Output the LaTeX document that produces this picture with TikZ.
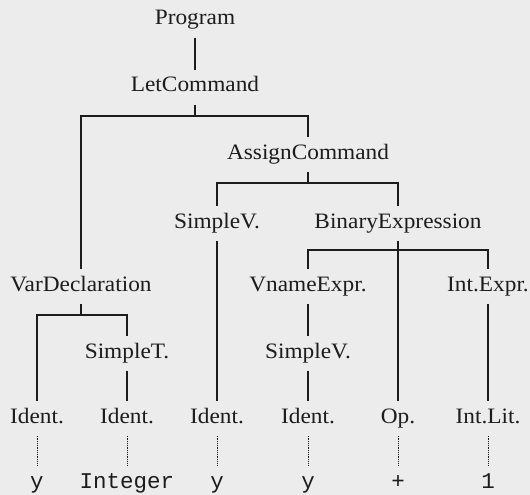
\documentclass[tikz,border=0pt]{standalone}
\usepackage{fontspec}
\setmainfont[FakeStretch=1.06]{Liberation Serif}
\setmonofont{Liberation Mono}
\definecolor{bg}{RGB}{236,236,236}
\definecolor{ink}{RGB}{28,28,28}
\tikzset{
  lbl/.style={anchor=base, inner sep=0pt, text height=22pt, text depth=12.5pt,
              text=ink, font=\fontsize{22}{26}\selectfont},
  tok/.style={lbl, font=\ttfamily\fontsize{22.5}{26}\selectfont},
  edge/.style={draw=ink, line width=1.7pt, line join=miter},
  lex/.style={draw=ink, line width=0.9pt, dash pattern=on 0.9pt off 0.9pt}
}
\begin{document}
\begin{tikzpicture}[x=1pt,y=-1pt]
\fill[bg] (0,0) rectangle (530,495);
\useasboundingbox (0,0) rectangle (530,495);
% nodes
\node[lbl] (prog) at (195,25) {Program};
\node[lbl] (let)  at (195,92) {LetCommand};
\node[lbl] (asg)  at (308,159) {AssignCommand};
\node[lbl] (sv1)  at (217,228) {SimpleV.};
\node[lbl] (bin)  at (398,228) {BinaryExpression};
\node[lbl] (var)  at (81,291) {VarDeclaration};
\node[lbl] (vne)  at (308,291) {VnameExpr.};
\node[lbl] (inte) at (488,291) {Int.Expr.};
\node[lbl] (st)   at (127,358) {SimpleT.};
\node[lbl] (sv2)  at (308,358) {SimpleV.};
\node[lbl] (id1)  at (37,423) {Ident.};
\node[lbl] (id2)  at (127,423) {Ident.};
\node[lbl] (id3)  at (217,423) {Ident.};
\node[lbl] (id4)  at (308,423) {Ident.};
\node[lbl] (op)   at (398,423) {Op.};
\node[lbl] (lit)  at (488,423) {Int.Lit.};
\node[tok] (t1) at (37,488) {y};
\node[tok] (t2) at (127,488) {Integer};
\node[tok] (t3) at (217,488) {y};
\node[tok] (t4) at (308,488) {y};
\node[tok] (t5) at (398,488) {+};
\node[tok] (t6) at (488,488) {1};
% bar levels
\coordinate (b1) at (0,116);
\coordinate (b2) at (0,183);
\coordinate (b3) at (0,250);
\coordinate (b4) at (0,315);
% connectors
\draw[edge] (prog.south) -- (let.north);
\draw[edge] (let.south) -- (let.south |- b1);
\draw[edge] (var.north) |- (asg.north |- b1) -- (asg.north);
\draw[edge] (asg.south) -- (asg.south |- b2);
\draw[edge] (sv1.north) |- (bin.north |- b2) -- (bin.north);
\draw[edge] (sv1.south) -- (id3.north);
\draw[edge] (bin.south) -- (op.north);
\draw[edge] (vne.north) |- (inte.north |- b3) -- (inte.north);
\draw[edge] (var.south) -- (var.south |- b4);
\draw[edge] (id1.north) |- (st.north |- b4) -- (st.north);
\draw[edge] (st.south) -- (id2.north);
\draw[edge] (vne.south) -- (sv2.north);
\draw[edge] (sv2.south) -- (id4.north);
\draw[edge] (inte.south) -- (lit.north);
\draw[lex] (id1.south) -- (t1.north);
\draw[lex] (id2.south) -- (t2.north);
\draw[lex] (id3.south) -- (t3.north);
\draw[lex] (id4.south) -- (t4.north);
\draw[lex] (op.south) -- (t5.north);
\draw[lex] (lit.south) -- (t6.north);
\end{tikzpicture}
\end{document}
